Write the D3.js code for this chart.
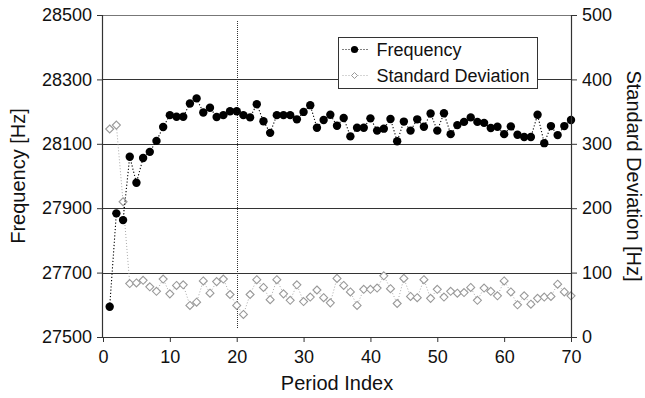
<!DOCTYPE html>
<html><head><meta charset="utf-8">
<script src="https://cdn.jsdelivr.net/npm/d3@7"></script>
<style>
html,body{margin:0;padding:0;background:#fff;}
svg text{font-family:"Liberation Sans",Arial,sans-serif;}
</style></head>
<body><svg id="chart" width="645" height="398"></svg>
<script>
const periods = d3.range(1, 71);
const frequency = [27594,27884,27863,28060,27979,28056,28075,28109,28152,28189,
28184,28184,28225,28241,28197,28212,28183,28189,28201,28201,
28189,28182,28223,28170,28134,28189,28189,28189,28176,28199,
28220,28150,28174,28190,28156,28180,28123,28150,28150,28179,
28141,28147,28177,28108,28169,28141,28176,28153,28194,28141,
28195,28130,28158,28168,28182,28168,28165,28149,28153,28130,
28154,28128,28121,28121,28190,28102,28155,28127,28155,28174];
const stdDev = [323,329,210,83,84,88,78,71,90,67,
80,81,49,54,87,68,86,90,66,49,
35,66,89,77,58,89,67,57,81,55,
62,73,61,53,91,80,70,49,74,74,
76,95,75,52,91,63,61,89,60,74,
62,71,68,69,77,57,76,71,64,87,
70,50,64,51,60,62,63,82,70,64];
const xTicks = [0,10,20,30,40,50,60,70];
const freqTicks = [27500,27700,27900,28100,28300,28500];
const sdTicks = [0,100,200,300,400,500];
const markerPeriod = 20;
const seriesNames = ["Frequency","Standard Deviation"];

const W = 645, H = 398;
const m = {left:103, right:74, top:15, bottom:61};
const svg = d3.select("#chart");
const x = d3.scaleLinear().domain([0,70]).range([m.left, W-m.right]);
const yF = d3.scaleLinear().domain([27500,28500]).range([H-m.bottom, m.top]);
const yS = d3.scaleLinear().domain([0,500]).range([H-m.bottom, m.top]);
const FS = 18, TS = 20;

// grid lines
svg.append("g").selectAll("line").data(freqTicks.slice(1)).join("line")
  .attr("x1", m.left).attr("x2", W-m.right)
  .attr("y1", d=>Math.round(yF(d))+0.5).attr("y2", d=>Math.round(yF(d))+0.5)
  .attr("stroke", d=> d===28500 ? "#777" : "#333").attr("stroke-width",1);

// vertical reference line
svg.append("line")
  .attr("x1", Math.round(x(markerPeriod))+0.5).attr("x2", Math.round(x(markerPeriod))+0.5)
  .attr("y1", m.top+6).attr("y2", H-m.bottom-9)
  .attr("stroke","#333").attr("stroke-width",1).attr("stroke-dasharray","1,1");

// SD series
svg.append("path").datum(stdDev)
  .attr("d", d3.line().x((d,i)=>x(periods[i])).y(d=>yS(d)))
  .attr("fill","none").attr("stroke","#aaa").attr("stroke-width",1).attr("stroke-dasharray","1,2");
const diamond = "M0,-4L4,0L0,4L-4,0Z";
svg.append("g").selectAll("path").data(stdDev).join("path")
  .attr("d", diamond)
  .attr("transform",(d,i)=>`translate(${x(periods[i])},${yS(d)})`)
  .attr("fill","#fff").attr("stroke","#999").attr("stroke-width",1.1);

// Frequency series
svg.append("path").datum(frequency)
  .attr("d", d3.line().x((d,i)=>x(periods[i])).y(d=>yF(d)))
  .attr("fill","none").attr("stroke","#000").attr("stroke-width",1.1).attr("stroke-dasharray","1.2,2");
svg.append("g").selectAll("circle").data(frequency).join("circle")
  .attr("cx",(d,i)=>x(periods[i])).attr("cy",d=>yF(d)).attr("r",4.2).attr("fill","#000");

// axes
const axL = svg.append("g").attr("transform",`translate(${m.left},0)`)
  .call(d3.axisLeft(yF).tickValues(freqTicks).tickSize(6).tickPadding(5).tickFormat(d3.format("d")));
const axR = svg.append("g").attr("transform",`translate(${W-m.right},0)`)
  .call(d3.axisRight(yS).tickValues(sdTicks).tickSize(6).tickPadding(5).tickFormat(d3.format("d")));
const axB = svg.append("g").attr("transform",`translate(0,${H-m.bottom})`)
  .call(d3.axisBottom(x).tickValues(xTicks).tickSize(5).tickPadding(8).tickFormat(d3.format("d")));
[axL,axR,axB].forEach(a=>{
  a.select(".domain").attr("stroke","#333").attr("stroke-width",1.2);
  a.selectAll(".tick line").attr("stroke","#333");
  a.selectAll("text").attr("font-size",FS).attr("fill","#111")
    .style("font-family",'"Liberation Sans",Arial,sans-serif');
});
axL.select(".domain").attr("d",`M-0.5,${m.top}V${H-m.bottom}`);
axR.select(".domain").attr("d",`M0.5,${m.top}V${H-m.bottom}`);
axB.select(".domain").attr("d",`M${m.left},0.5H${W-m.right}`);

// axis titles
svg.append("text").attr("x",(m.left+W-m.right)/2).attr("y",390)
  .attr("text-anchor","middle").attr("font-size",TS).attr("fill","#111").text("Period Index");
svg.append("text").attr("transform",`translate(25,${(m.top+H-m.bottom)/2}) rotate(-90)`)
  .attr("text-anchor","middle").attr("font-size",TS).attr("fill","#111").text("Frequency [Hz]");
svg.append("text").attr("transform",`translate(627,${(m.top+H-m.bottom)/2}) rotate(90)`)
  .attr("text-anchor","middle").attr("font-size",TS).attr("fill","#111").text("Standard Deviation [Hz]");

// legend
const lg = svg.append("g").attr("transform","translate(338.5,37.5)");
lg.append("rect").attr("width",199).attr("height",51).attr("fill","#fff").attr("stroke","#333").attr("stroke-width",1);
const rows = [
  {name:seriesNames[0], y:12, stroke:"#000", kind:"circle"},
  {name:seriesNames[1], y:38, stroke:"#aaa", kind:"diamond"}
];
rows.forEach(r=>{
  lg.append("line").attr("x1",4).attr("x2",30).attr("y1",r.y).attr("y2",r.y)
    .attr("stroke",r.stroke).attr("stroke-width",1).attr("stroke-dasharray","1,2");
  if(r.kind==="circle"){
    lg.append("circle").attr("cx",16).attr("cy",r.y).attr("r",3.6).attr("fill","#000");
  } else {
    lg.append("path").attr("d","M0,-3L3,0L0,3L-3,0Z").attr("transform",`translate(16,${r.y})`)
      .attr("fill","#fff").attr("stroke","#999");
  }
  lg.append("text").attr("x",38).attr("y",r.y).attr("dy","0.36em").attr("font-size",FS).attr("fill","#111").text(r.name);
});
</script></body></html>
